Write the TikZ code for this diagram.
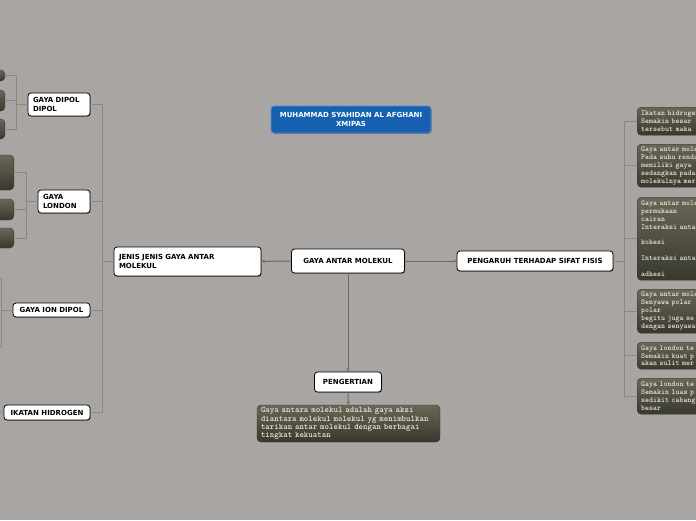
\documentclass[tikz,border=0pt]{standalone}
\usepackage{fontspec}
\setsansfont{DejaVu Sans}
\usetikzlibrary{arrows.meta,shadows}

\definecolor{bggray}{RGB}{169,165,163}
\definecolor{titleblue}{RGB}{22,96,178}
\definecolor{titleedge}{RGB}{90,140,205}
\definecolor{notetop}{RGB}{106,103,88}
\definecolor{notebot}{RGB}{56,56,46}
\definecolor{linkdark}{RGB}{110,106,92}
\definecolor{linklight}{RGB}{140,136,124}
\definecolor{notetext}{RGB}{238,234,222}

\begin{document}
\begin{tikzpicture}[x=1pt, y=-1pt, line cap=round, line join=round]
\tikzset{
    topic/.style={draw=black, fill=white, line width=0.8pt, rounded corners=3pt,
        font=\sffamily\bfseries\fontsize{7}{8.5}\selectfont, inner xsep=5pt, inner ysep=0pt,
        drop shadow={shadow xshift=0.6pt, shadow yshift=-0.8pt, opacity=0.35, fill=black}},
    titlebox/.style={topic, draw=titleedge, fill=titleblue, text=white, align=center},
    note/.style={rounded corners=4pt, top color=notetop, bottom color=notebot, draw=notebot,
        line width=0.4pt, text=notetext, font=\ttfamily\bfseries\fontsize{7.6}{7.9}\selectfont,
        align=left, inner xsep=4pt, inner ysep=2pt},
    tree/.style={draw=linklight, line width=0.7pt},
    branch/.style={draw=linkdark, line width=1pt, -{Stealth[length=3.5pt, width=3pt]}}
}
% canvas
\useasboundingbox (0,0) rectangle (696,520);
\fill[bggray] (0,0) rectangle (696,520);
\clip (0,0) rectangle (696,520);

% central topics
\node[titlebox, minimum width=160pt, minimum height=27pt] (author) at (351,119.5) {MUHAMMAD SYAHIDAN AL AFGHANI\\XMIPAS};
\node[topic, minimum width=113pt, minimum height=24pt] (main) at (348,261) {GAYA ANTAR MOLEKUL};
\node[topic, text width=137pt, minimum height=29pt, align=left] (jenis) at (187.5,261.5) {JENIS JENIS GAYA ANTAR\\MOLEKUL};
\node[topic, minimum width=156pt, minimum height=20pt] (pengaruh) at (535,261) {PENGARUH TERHADAP SIFAT FISIS};
\node[topic, minimum width=67pt, minimum height=20pt] (pengertian) at (348,382) {PENGERTIAN};
\node[note, text width=175pt, minimum height=37pt, font=\ttfamily\bfseries\fontsize{8.5}{8.2}\selectfont] (definisi) at (348.5,423.5)
    {Gaya antara molekul adalah gaya aksi\\diantara molekul molekul yg menimbulkan\\tarikan antar molekul dengan berbagai\\tingkat kekuatan};

% kinds of forces
\node[topic, text width=52pt, minimum height=23pt, align=left] (dipol) at (59,104.5) {GAYA DIPOL\\DIPOL};
\node[topic, text width=42pt, minimum height=23pt, align=left] (london) at (64,201.5) {GAYA\\LONDON};
\node[topic, minimum width=77pt, minimum height=14pt] (iondipol) at (51.5,310) {GAYA ION DIPOL};
\node[topic, minimum width=86pt, minimum height=15pt] (hidrogen) at (47,412.5) {IKATAN HIDROGEN};

% notes cut by the left edge
\node[note, anchor=east, minimum width=40pt, minimum height=11pt] (d1) at (5,75.5) {};
\node[note, anchor=east, minimum width=40pt, minimum height=21pt] (d2) at (5,100.5) {};
\node[note, anchor=east, minimum width=40pt, minimum height=20pt] (d3) at (5,129) {};
\node[note, anchor=east, minimum width=40pt, minimum height=35pt] (l1) at (14,172.5) {};
\node[note, anchor=east, minimum width=40pt, minimum height=21pt] (l2) at (14,209.5) {};
\node[note, anchor=east, minimum width=40pt, minimum height=20pt] (l3) at (14,238) {};
\coordinate (i1) at (-30,278);
\coordinate (i2) at (-30,347);
\coordinate (h1) at (-30,412.5);

% notes cut by the right edge
\node[note, anchor=north west, text width=120pt, minimum height=28pt] (r1) at (637,107)
    {Ikatan hidrogen\\Semakin besar\\tersebut maka};
\node[note, anchor=north west, text width=120pt, minimum height=43pt] (r2) at (637,144)
    {Gaya antar molekul\\Pada suhu rendah\\memiliki gaya\\sedangkan pada\\molekulnya mer};
\node[note, anchor=north west, text width=120pt, minimum height=83pt] (r3) at (637,197)
    {Gaya antar molekul\\permukaan\\cairan\\Interaksi antar\\\mbox{}\\kohesi\\\mbox{}\\Interaksi antar\\\mbox{}\\adhesi};
\node[note, anchor=north west, text width=120pt, minimum height=44pt] (r4) at (637,289)
    {Gaya antar molekul\\Senyawa polar\\polar\\begitu juga se\\dengan senyawa};
\node[note, anchor=north west, text width=120pt, minimum height=27pt] (r5) at (637,342)
    {Gaya london te\\Semakin kuat p\\akan sulit mer};
\node[note, anchor=north west, text width=120pt, minimum height=36pt] (r6) at (637,378)
    {Gaya london te\\Semakin luas p\\sedikit cabang\\besar};

% connectors
\draw[branch] (main) -- (jenis);
\draw[branch] (main) -- (pengaruh);
\draw[branch] (main) -- (pengertian);
\draw[branch] (pengertian) -- (definisi);
\foreach \n in {dipol,london,iondipol,hidrogen}
    \draw[tree] (jenis.west) -- ++(-11,0) |- (\n.east);
\foreach \n in {d1,d2,d3}
    \draw[tree] (dipol.west) -- ++(-11,0) |- (\n.east);
\foreach \n in {l1,l2,l3}
    \draw[tree] (london.west) -- ++(-11,0) |- (\n.east);
\foreach \n in {i1,i2}
    \draw[tree] (iondipol.west) -- ++(-11,0) |- (\n);
\draw[tree] (hidrogen.west) -- (h1);
\foreach \n in {r1,r2,r3,r4,r5,r6}
    \draw[tree] (pengaruh.east) -- ++(11,0) |- (\n.west);
\end{tikzpicture}
\end{document}
